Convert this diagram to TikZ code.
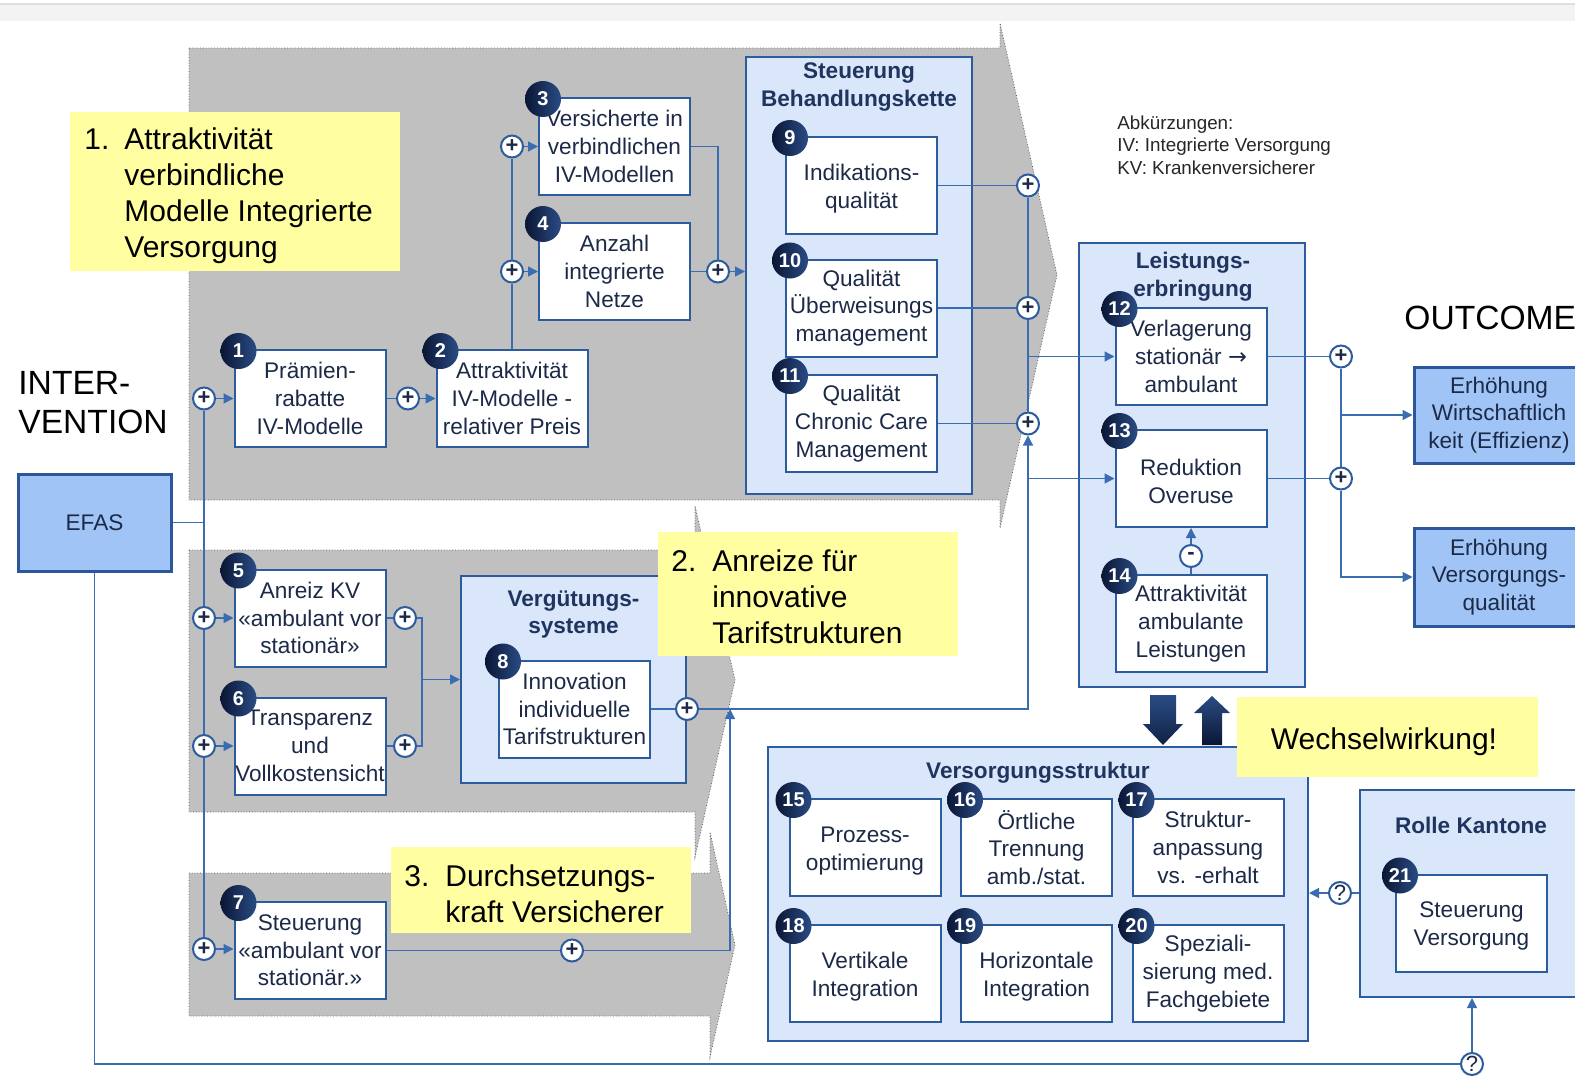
\documentclass[tikz,border=0pt]{standalone}
\usepackage{fontspec}
\setmainfont{Liberation Sans}
\newfontfamily\symfont{DejaVu Sans}
\usetikzlibrary{arrows.meta}
\definecolor{lnc}{HTML}{3A6CB2}
\definecolor{bdr}{HTML}{2D5C9E}
\definecolor{cfill}{HTML}{DAE7FB}
\definecolor{efill}{HTML}{A0C4F5}
\definecolor{ebdr}{HTML}{2B5699}
\definecolor{chev}{HTML}{C0C0C0}
\definecolor{chevb}{HTML}{5A5A5A}
\definecolor{yel}{HTML}{FFFEA0}
\definecolor{txt}{HTML}{1C2A48}
\definecolor{ttl}{HTML}{1F3560}
\definecolor{nvA}{HTML}{0A1634}
\definecolor{nvB}{HTML}{2A4C84}
\definecolor{topbar}{HTML}{F3F3F3}
\pgfdeclarelayer{bg}
\pgfdeclarelayer{lines}
\pgfdeclarelayer{fg}
\pgfsetlayers{bg,lines,main,fg}
\begin{document}
\begin{tikzpicture}[x=0.5pt,y=-0.5pt,
  bfont/.style={font=\fontsize{11.3}{13.85}\selectfont},
  wbox/.style={draw=bdr, line width=1pt, fill=white, minimum width=75.5pt, minimum height=48.5pt, inner sep=0pt, align=center, text=txt, bfont},
  cont/.style={draw=bdr, line width=1pt, fill=cfill, inner sep=0pt},
  ctitle/.style={font=\fontsize{11.3}{13.85}\selectfont\bfseries, text=ttl, align=center, inner sep=0pt},
  badge/.style={circle, minimum size=18pt, inner sep=0pt, left color=nvA, right color=nvB, text=white, font=\fontsize{10}{10}\selectfont\bfseries, xshift=2.5pt, yshift=-1pt},
  pc/.style={circle, draw=bdr, line width=1pt, fill=white, minimum size=11pt, inner sep=0pt, text=txt, font=\fontsize{11}{11}\selectfont\bfseries},
  conn/.style={draw=lnc, line width=0.65pt},
  arr/.style={conn, -{Triangle[length=5pt,width=5pt]}},
  yrect/.style={fill=yel, inner sep=0pt},
  ytext/.style={inner sep=0pt, align=left, text=black, font=\fontsize{15}{18}\selectfont},
  obox/.style={draw=ebdr, line width=1.5pt, fill=efill, inner sep=0pt, align=center, text=txt, bfont},
  chevron/.style={fill=chev, draw=chevb, line width=0.4pt, densely dotted},
]
\useasboundingbox (0,0) rectangle (1575,1076);

\begin{pgfonlayer}{bg}
\fill[topbar] (0,4) rectangle (1575,21);
\draw[gray!25, line width=0.8pt] (0,4) -- (1575,4);
% chevrons
\path[chevron] (189,48) -- (1000,48) -- (1000,23) -- (1057,275) -- (1000,528) -- (1000,500) -- (189,500) -- cycle;
\path[chevron] (189,550) -- (695,550) -- (695,506) -- (735,680) -- (695,857) -- (695,812) -- (189,812) -- cycle;
\path[chevron] (189,873) -- (710,873) -- (710,832) -- (735,945) -- (710,1057) -- (710,1016) -- (189,1016) -- cycle;
% containers
\node[cont, minimum width=113pt, minimum height=218.5pt] (CSB) at (859,275.5) {};
\node[cont, minimum width=112.5pt, minimum height=103.5pt] (CVG) at (573.5,679.5) {};
\node[cont, minimum width=113pt, minimum height=222pt] (CLE) at (1192,465) {};
\node[cont, minimum width=270pt, minimum height=147pt] (CVS) at (1038,894) {};
\node[cont, minimum width=115pt, minimum height=103.5pt] (CRK) at (1475,893.5) {};
\end{pgfonlayer}

% container titles
\node[ctitle] (tCSB) at (859,87) {Steuerung\\Behandlungskette};
\node[ctitle] (tCLE) at (1193,277) {Leistungs-\\erbringung};
\node[ctitle] (tCVG) at (573.5,614.5) {Vergütungs-\\systeme};
\node[ctitle] (tCVS) at (1038,773) {Versorgungsstruktur};
\node[ctitle] (tCRK) at (1471,825) {Rolle Kantone};

% boxes
\node[wbox] (b1) at (310,398.5) {Prämien-\\rabatte\\IV-Modelle};
\node[wbox] (b2) at (512,398.5) {Attraktivität\\IV-Modelle -\\relativer Preis};
\node[wbox] (b3) at (614.5,146.5) {Versicherte in\\verbindlichen\\IV-Modellen};
\node[wbox] (b4) at (614.5,271.5) {Anzahl\\integrierte\\Netze};
\node[wbox] (b5) at (310,618) {Anreiz KV\\«ambulant vor\\stationär»};
\node[wbox] (b6) at (310,746) {Transparenz\\und\\Vollkostensicht};
\node[wbox] (b7) at (310,950.5) {Steuerung\\«ambulant vor\\stationär.»};
\node[wbox] (b8) at (574.5,709) {Innovation\\individuelle\\Tarifstrukturen};
\node[wbox] (b9) at (861.5,185.5) {\rule{0pt}{11pt}Indikations-\\qualität};
\node[wbox] (b10) at (861.5,308) {Qualität\\Überweisungs\\management};
\node[wbox] (b11) at (861.5,423.5) {Qualität\\Chronic Care\\Management};
\node[wbox] (b12) at (1191,356.5) {Verlagerung\\stationär {\symfont →}\\ambulant};
\node[wbox] (b13) at (1191,478.5) {\rule{0pt}{11pt}Reduktion\\Overuse};
\node[wbox] (b14) at (1191,623.5) {Attraktivität\\ambulante\\Leistungen};
\node[wbox] (b15) at (865,847.5) {\rule{0pt}{11pt}Prozess-\\optimierung};
\node[wbox] (b16) at (1036.5,847.5) {Örtliche\\Trennung\\amb./stat.};
\node[wbox] (b17) at (1208,847.5) {Struktur-\\anpassung\\vs. -erhalt};
\node[wbox] (b18) at (865,973.5) {\rule{0pt}{11pt}Vertikale\\Integration};
\node[wbox] (b19) at (1036.5,973.5) {\rule{0pt}{11pt}Horizontale\\Integration};
\node[wbox] (b20) at (1208,973.5) {Speziali-\\sierung med.\\Fachgebiete};
\node[wbox] (b21) at (1471.5,923) {\rule{0pt}{11pt}Steuerung\\Versorgung};

% badges
\foreach \i in {1,...,21} {\node[badge] (n\i) at (b\i.north west) {\i};}

% outcome and EFAS boxes
\node[obox, minimum width=85pt, minimum height=48pt] (O1) at (1499,415) {Erhöhung\\Wirtschaftlich\\keit (Effizienz)};
\node[obox, minimum width=85pt, minimum height=49pt] (O2) at (1499,577) {Erhöhung\\Versorgungs-\\qualität};
\node[obox, minimum width=76.5pt, minimum height=48.5pt] (EFAS) at (94.5,522.5) {EFAS};

% plus / minus / question circles
\node[pc] (Pa) at (204,398.5) {+};
\node[pc] (Pb) at (408,398.5) {+};
\node[pc] (Pc) at (512,146.5) {+};
\node[pc] (Pd) at (512,271.5) {+};
\node[pc] (Pe) at (718,271.5) {+};
\node[pc] (Pp9) at (1028,185.5) {+};
\node[pc] (Pp10) at (1028,308) {+};
\node[pc] (Pp11) at (1028,423.5) {+};
\node[pc] (Q12) at (1341,356.5) {+};
\node[pc] (Q13) at (1341,478.5) {+};
\node[pc] (M) at (1191,556) {-};
\node[pc] (P5l) at (204,618) {+};
\node[pc] (P5r) at (405,618) {+};
\node[pc] (P6l) at (204,746) {+};
\node[pc] (P6r) at (405,746) {+};
\node[pc] (P7l) at (204,949) {+};
\node[pc] (P7m) at (572,950.5) {+};
\node[pc] (P8) at (687,709) {+};
\node[pc, font=\fontsize{11}{11}\selectfont] (Q1) at (1340,893) {?};
\node[pc, font=\fontsize{11}{11}\selectfont] (Q2) at (1472,1064) {?};

\coordinate (J12) at (1028,356.5);
\coordinate (J13) at (1028,478.5);
\coordinate (J7) at (730,709);
\coordinate (JV) at (422,679.5);
\coordinate (J16) at (1341,415);

\begin{pgfonlayer}{lines}
\draw[conn] (EFAS.east) -- (EFAS.east -| Pa);
\draw[conn] (Pa) -- (P5l);
\draw[conn] (P5l) -- (P6l);
\draw[conn] (P6l) -- (P7l);
\draw[arr] (Pa) -- (b1);
\draw[conn] (b1) -- (Pb);
\draw[arr] (Pb) -- (b2);
\draw[conn] (b2) -- (Pd);
\draw[conn] (Pd) -- (Pc);
\draw[arr] (Pc) -- (b3);
\draw[arr] (Pd) -- (b4);
\draw[conn] (b3) -| (Pe);
\draw[conn] (b4) -- (Pe);
\draw[arr] (Pe) -- (Pe -| CSB.west);
\draw[conn] (b9) -- (Pp9);
\draw[conn] (b10) -- (Pp10);
\draw[conn] (b11) -- (Pp11);
\draw[conn] (Pp9) -- (Pp10);
\draw[conn] (Pp10) -- (Pp11);
\draw[arr] (J12) -- (b12);
\draw[conn] (b8) -- (P8);
\draw[arr] (P8) -| (Pp11);
\draw[arr] (J13) -- (b13);
\draw[conn] (b7) -- (P7m);
\draw[arr] (P7m) -| (J7);
\draw[conn] (b5) -- (P5r);
\draw[conn] (b6) -- (P6r);
\draw[conn] (P5r) -| (JV);
\draw[conn] (P6r) -| (JV);
\draw[arr] (JV) -- (CVG);
\draw[arr] (P5l) -- (b5);
\draw[arr] (P6l) -- (b6);
\draw[arr] (P7l) -- (P7l -| b7.west);
\draw[conn] (b12) -- (Q12);
\draw[conn] (b13) -- (Q13);
\draw[conn] (Q12) -- (Q13);
\draw[arr] (Q13) |- (O2);
\draw[arr] (J16) -- (O1);
\draw[conn] (b14) -- (M);
\draw[arr] (M) -- (b13);
\draw[conn] (CRK.west |- Q1) -- (Q1);
\draw[arr] (Q1) -- (Q1 -| CVS.east);
\draw[conn] (EFAS) |- (Q2);
\draw[arr] (Q2) -- (Q2 |- CRK.south);
\end{pgfonlayer}

% big arrows (Wechselwirkung)
\shade[top color=nvB, bottom color=nvA!80!nvB] (1150,695) -- (1176,695) -- (1176,724) -- (1183,724) -- (1163,745) -- (1143,724) -- (1150,724) -- cycle;
\shade[top color=nvB, bottom color=nvA] (1202,745) -- (1222,745) -- (1222,713) -- (1230,713) -- (1212,696) -- (1194,713) -- (1202,713) -- cycle;

% free texts
\node[anchor=west, align=left, font=\fontsize{16.8}{19.5}\selectfont, inner sep=0pt] (INT) at (18,403) {INTER-\\VENTION};
\node[anchor=west, font=\fontsize{16.8}{19.5}\selectfont, inner sep=0pt] (OUT) at (1404,318) {OUTCOME};
\node[anchor=west, align=left, font=\fontsize{9.4}{11.3}\selectfont, inner sep=0pt, text=black!85] (ABK) at (1117,145) {Abkürzungen:\\IV: Integrierte Versorgung\\KV: Krankenversicherer};

\begin{pgfonlayer}{fg}
\node[yrect, minimum width=165pt, minimum height=79.5pt] (Y1) at (235,191.5) {};
\node[ytext, anchor=west] (Y1t) at (84,195.5) {\makebox[20pt][l]{1.}Attraktivität\\\hspace*{20pt}verbindliche\\\hspace*{20pt}Modelle Integrierte\\\hspace*{20pt}Versorgung};
\node[yrect, minimum width=150pt, minimum height=62pt] (Y2) at (808,594) {};
\node[ytext, anchor=west] (Y2t) at (671,596.5) {\makebox[20.5pt][l]{2.}Anreize für\\\hspace*{20.5pt}innovative\\\hspace*{20.5pt}Tarifstrukturen};
\node[yrect, minimum width=150pt, minimum height=43pt] (Y3) at (541,890) {};
\node[ytext, anchor=west] (Y3t) at (404,893.5) {\makebox[20.5pt][l]{3.}Durchsetzungs-\\\hspace*{20.5pt}kraft Versicherer};
\node[yrect, minimum width=150.5pt, minimum height=40pt] (Y4) at (1387.5,737) {};
\node[ytext] (Y4t) at (1384,742) {Wechselwirkung!};
\end{pgfonlayer}
\end{tikzpicture}
\end{document}
